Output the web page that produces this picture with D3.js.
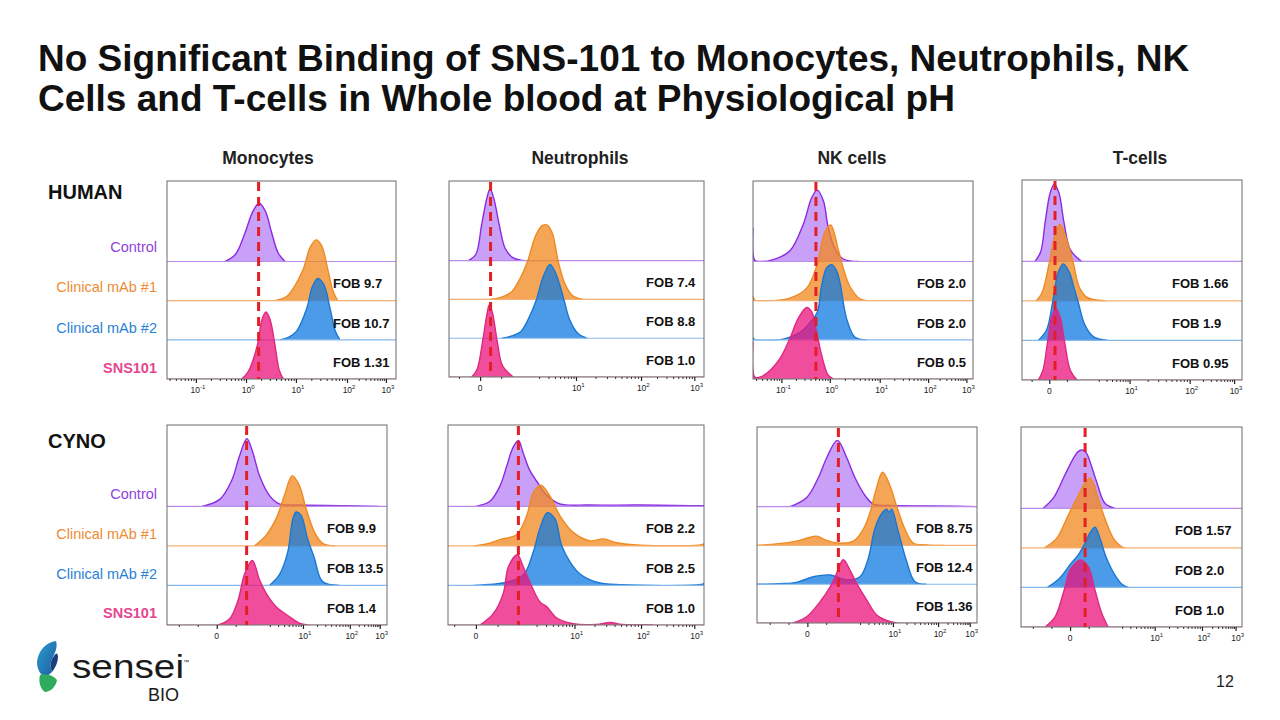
<!DOCTYPE html>
<html><head><meta charset="utf-8">
<script src="https://cdnjs.cloudflare.com/ajax/libs/d3/7.8.5/d3.min.js"></script>
<style>body{margin:0;background:#fff}svg{display:block}text{font-family:"Liberation Sans",Arial,sans-serif}</style>
</head><body><svg id="c" width="1280" height="720"></svg>
<script>
// ---------------- DATA ----------------
const titleLines = ["No Significant Binding of SNS-101 to Monocytes, Neutrophils, NK",
                    "Cells and T-cells in Whole blood at Physiological pH"];
const rowNames = ["HUMAN", "CYNO"];
const cellTypes = ["Monocytes", "Neutrophils", "NK cells", "T-cells"];
const seriesNames = ["Control", "Clinical mAb #1", "Clinical mAb #2", "SNS101"];

// FOB values per panel: [mAb1, mAb2, SNS101]
const fobHuman = [["9.7","10.7","1.31"],["7.4","8.8","1.0"],["2.0","2.0","0.5"],["1.66","1.9","0.95"]];
const fobCyno  = [["9.9","13.5","1.4"],["2.2","2.5","1.0"],["8.75","12.4","1.36"],["1.57","2.0","1.0"]];

// control-peak reference (display channel 0-100)
const dashHuman = [40, 16.3, 28.6, 15];
const dashCyno  = [36.2, 27.5, 37, 29];

// axis tick labels: [exponent (null = "0"), display channel]
const hMonoTicks = [[-1,13.5],[0,35.4],[1,57.2],[2,79.5],[3,96.5]];
const hNeutTicks = [[null,12.2],[1,50.7],[2,76.2],[3,97.1]];
const hNKTicks   = [[-1,13.8],[0,35.8],[1,58.5],[2,80.5],[3,97.9]];
const hTTicks    = [[null,12.4],[1,49.8],[2,77.1],[3,97.3]];
const cMonoTicks = [[null,22.6],[1,62.7],[2,84],[3,97.6]];
const cNeutTicks = [[null,10.9],[1,50.3],[2,76.3],[3,97.1]];
const cNKTicks   = [[null,22.9],[1,62.7],[2,83.2],[3,97.6]];
const cTTicks    = [[null,22.2],[1,61.4],[2,82.8],[3,98]];

// histograms: [channel, % of mode] for Control, mAb #1, mAb #2, SNS101
const hMono = [
 [[25.3,0],[30,12],[34.1,46],[37.5,80],[40.3,93],[43,80],[45.7,46],[48.5,14],[51.5,0]],
 [[47.2,0],[52,6],[55.2,20],[59.5,50],[62.5,85],[65.1,97],[67.5,88],[70.2,50],[72.5,15],[74.5,0]],
 [[49.3,0],[53,4],[56.6,14],[61,50],[63.5,85],[65.9,98],[68.5,88],[71.2,50],[73.5,14],[75.5,0]],
 [[32.6,0],[35.5,12],[39.4,53],[41.5,95],[43.2,107],[45,95],[47.2,53],[49,14],[50.8,0]]
];
const hNeut = [
 [[7.6,0],[10.5,10],[12.8,58],[14.8,100],[16.1,116],[17.6,100],[19.7,58],[22,20],[25,5],[28,1],[35,0]],
 [[16,0],[20,3],[24.5,12],[28,35],[30.7,60],[34,103],[36.5,119],[38.5,120],[40.5,107],[42.9,60],[45.5,25],[48.5,6],[52.7,0]],
 [[20.7,0],[24,3],[28,10],[31,30],[34.1,60],[37,100],[39.6,119],[41.5,108],[43.5,85],[45.2,60],[47.5,28],[50.5,8],[54,0]],
 [[8.9,0],[11,12],[13.2,58],[15,104],[15.8,116],[17,104],[18.9,58],[21,18],[25.2,0]]
];
const hNK = [
 [[0,54],[0.8,2],[3,0],[9.2,3],[16.8,17],[22.9,60],[26.7,102],[29.2,114],[32,97],[34.2,54],[37.3,20],[41,4],[48,0]],
 [[0,8],[0.8,1],[9.2,0],[16.8,4],[24.4,20],[28.9,55],[32.7,110],[35.3,121],[38.8,81],[41,52],[44,23],[48.6,3],[53,0]],
 [[0,4],[0.8,0],[12,0],[21.4,12],[26,28],[29.2,44],[31.2,87],[33.5,115],[35.8,120],[38,110],[39.5,92],[42.6,33],[46.4,4],[52,0]],
 [[0,60],[0.8,3],[3,3],[6.2,9],[12.3,33],[16.8,65],[20.6,97],[24.4,114],[26.7,107],[28.9,75],[31.2,38],[34.2,6],[36.5,0]]
];
const hT = [
 [[5.9,0],[8.5,15],[10.5,61],[12.8,108],[14.7,122],[16.8,108],[19.1,61],[22,18],[27,0]],
 [[6.4,0],[9,12],[12.4,60],[15,105],[17.3,121],[20,100],[23.3,60],[26,22],[29.4,6],[35,1],[38,0]],
 [[7.4,0],[11.2,17],[13.9,60],[16.5,108],[18.8,121],[21.5,108],[23.5,85],[25.6,60],[28.5,25],[32.4,6],[39,0]],
 [[7.4,0],[9.5,15],[11.5,57],[13.5,100],[15.3,113],[17.3,100],[19.5,57],[22,15],[25,0]]
];
const cMono = [
 [[16,0],[24,11],[29.3,40],[33,80],[36.3,107],[39,85],[42.1,48],[46.6,17],[51,4],[60,2],[80,1],[96,0]],
 [[39.8,0],[45.1,17],[49.6,43],[53.4,80],[56.9,111],[60.2,95],[63.2,59],[67,22],[70.7,4],[76.5,0]],
 [[46.6,0],[51.1,17],[54.9,53],[57.2,105],[58.7,116],[60.9,111],[63.9,74],[67,43],[70.7,6],[78.5,0]],
 [[23.2,0],[28.5,10],[32.3,39],[35.3,81],[38.8,102],[42.1,71],[45.1,50],[49.6,29],[55.7,13],[60.2,3],[64,0]]
];
const cNeut = [
 [[11,0],[16.4,8],[20.3,32],[22.9,63],[25.3,92],[27.5,104],[29.4,84],[31.8,58],[34.6,40],[38.5,18],[43.7,4],[55,2],[75,2],[95,1],[100,1]],
 [[9.9,0],[15,3],[20.3,10],[26.8,18],[30.7,47],[33.3,84],[36.3,96],[39.8,79],[43.8,47],[49,21],[55.5,8],[60.7,11],[65.9,5],[75,1],[98,1],[100,3]],
 [[9.9,0],[22.9,5],[29.4,16],[33.3,53],[35.9,90],[38.8,115],[41.8,105],[44.4,63],[47.7,37],[51.6,18],[58.1,5],[68,1],[98,1],[100,3]],
 [[12.5,0],[17.7,18],[21.6,50],[23.6,92],[27.1,111],[29.4,92],[32.7,61],[36,36],[38.5,29],[42.5,11],[49,2],[58,1],[63.3,4],[68,1],[80,0]]
];
const cNK = [
 [[15,0],[22.6,15],[27.9,47],[31.7,79],[36.5,107],[40.8,79],[44.5,47],[49.1,18],[52.9,4],[60,2],[90,1],[100,0]],
 [[0,0],[10,3],[18,7],[23,12],[27.1,15],[31,9],[36.2,4],[43.8,7],[48.3,26],[51.4,53],[54.1,90],[57.1,118],[60.5,96],[63.5,63],[67.3,26],[71,4],[77,1],[85,0]],
 [[0,0],[10,1],[18,3],[25.6,12],[33.2,15],[40.8,7],[46.8,12],[50.6,42],[53.6,90],[56.7,114],[58.9,121],[60,116],[61.2,121],[64.2,85],[68,37],[71.8,4],[77,0]],
 [[16.5,0],[22.6,10],[28.6,34],[33.2,58],[36.2,80],[39.2,102],[42.3,85],[45.3,64],[49.9,37],[54.4,13],[58.9,4],[63.5,0]]
];
const cT = [
 [[10,0],[14.6,16],[19.9,53],[23.7,79],[26,90],[27.9,92],[29.5,88],[31.2,74],[34.2,42],[38,8],[42.5,0]],
 [[10.6,0],[16.1,15],[21.4,52],[26.7,88],[29,103],[31.2,110],[33,100],[34.5,83],[38,46],[41.8,15],[45,3],[47,0]],
 [[12,0],[17.6,15],[22.2,36],[26,52],[29,70],[31.2,86],[33.5,95],[35.7,78],[38.7,46],[43.3,15],[46,4],[48.6,0]],
 [[10.9,0],[15.4,16],[19.1,53],[22.2,90],[24.4,100],[27,106],[30.5,95],[33.5,58],[36.5,22],[39.4,0]]
];

// ---------------- STYLE / LAYOUT ----------------
const fillC   = ["#B780F4","#F2871E","#107AE0","#EB127B"];
const strokeC = ["#8A2BE2","#EE8A22","#1A78D4","#DD2A80"];
const baseC   = ["#B98BEA","#F3B072","#86B9EC","#E679AE"];
const labelC  = ["#8F3FE0","#EE8B35","#2A7FD6","#E5468F"];
const labelDy = [[-15,-14,-12,-11],[-13,-12,-12,-12]];
const LANE = 62.5, YMAX = 316;
const curve = d3.curveCatmullRom.alpha(0.5);

const svg = d3.select("#c");

// title
svg.append("g").selectAll("text").data(titleLines).join("text")
  .attr("x", 38).attr("y", (d,i) => 71 + i*40)
  .attr("font-size", 37).attr("font-weight", "bold").attr("fill", "#111").text(d => d);

// column headers
const colCenters = [268, 580, 852, 1140];
svg.append("g").selectAll("text").data(cellTypes).join("text")
  .attr("x", (d,i) => colCenters[i]).attr("y", 164).attr("text-anchor","middle")
  .attr("font-size", 17.5).attr("font-weight","bold").attr("fill","#222").text(d => d);

const boxes = [
  [[167,181,396,379],[449,181,704,377],[753,181,973,379],[1022,180,1242,380]],
  [[167,425,387,625],[448,425,704,625],[757,427,977,623],[1021,427,1242,627]]
];
const fobXs = [[72.5,77.3,74.5,68.2],[72.7,77.3,72.3,69.7]];
const hists = [[hMono,hNeut,hNK,hT],[cMono,cNeut,cNK,cT]];
const ticks = [[hMonoTicks,hNeutTicks,hNKTicks,hTTicks],[cMonoTicks,cNeutTicks,cNKTicks,cTTicks]];
const fobs = [fobHuman, fobCyno];
const dashes = [dashHuman, dashCyno];
const rowLabelY = [199, 448];

function tickPos(t) {
  const major = t.map(d => d[0] === null ? d[1] : d[1] - 0.9);
  const minor = [];
  for (let i = 0; i < t.length - 1; i++) {
    const a = major[i], b = major[i+1];
    if (t[i][0] === null) {
      for (let k = 2; k < 10; k++) minor.push(b - (b-a)*0.55*(1 - Math.log10(k)));
      minor.push(a + (b-a)*0.22);
    } else {
      for (let k = 2; k < 10; k++) minor.push(a + (b-a)*Math.log10(k));
    }
  }
  const a = major[0], b = major[1];
  if (t[0][0] === null) { for (let v = a - (b-a)*0.22; v > 0.5; v -= (b-a)*0.22) minor.push(v); }
  else { for (let k = 2; k < 10; k++) { const v = a - (b-a)*(1 - Math.log10(k)); if (v > 0.5) minor.push(v); } }
  return {major, minor};
}

let clipId = 0;
rowNames.forEach((rn, r) => {
  svg.append("text").attr("x", 48).attr("y", rowLabelY[r]).attr("font-size", 20)
    .attr("font-weight","bold").attr("fill","#111").text(rn);

  cellTypes.forEach((ct, c) => {
    const [x0,y0,x1,y1] = boxes[r][c];
    const x = d3.scaleLinear().domain([0,100]).range([x0,x1]);
    const y = d3.scaleLinear().domain([0,YMAX]).range([y1,y0]);
    const g = svg.append("g");
    const id = "clip" + (clipId++);
    g.append("clipPath").attr("id", id).append("rect")
      .attr("x", x0).attr("y", y0).attr("width", x1-x0).attr("height", y1-y0);
    const cg = g.append("g").attr("clip-path", `url(#${id})`);

    hists[r][c].forEach((pts, i) => {
      const off = (3 - i) * LANE;
      const lc = cg.append("g");
      // clip each histogram to its own baseline so the spline never dips below it
      const lid = "lane" + (clipId++);
      lc.append("clipPath").attr("id", lid).append("rect")
        .attr("x", x0).attr("y", y0).attr("width", x1-x0).attr("height", y(off) - y0 + 0.5);
      const hg = lc.append("g").attr("clip-path", `url(#${lid})`);
      const area = d3.area().x(d => x(d[0])).y0(y(off)).y1(d => y(off + d[1])).curve(curve);
      hg.append("path").attr("d", area(pts)).attr("fill", fillC[i]).attr("fill-opacity", 0.75);
      const line = d3.line().x(d => x(d[0])).y(d => y(off + d[1])).curve(curve);
      hg.append("path").attr("d", line(pts)).attr("fill","none").attr("stroke", strokeC[i])
        .attr("stroke-width", 1.4).attr("stroke-linejoin","round");
      lc.append("line").attr("x1", x(0)).attr("x2", x(100)).attr("y1", y(off)).attr("y2", y(off))
        .attr("stroke", baseC[i]).attr("stroke-width", 1.2);
    });

    // box
    g.append("rect").attr("x", x0).attr("y", y0).attr("width", x1-x0).attr("height", y1-y0)
      .attr("fill","none").attr("stroke","#6b6b6b").attr("stroke-width",1);

    // dashed control-peak line
    g.append("line").attr("x1", x(dashes[r][c])).attr("x2", x(dashes[r][c]))
      .attr("y1", y(YMAX)+1).attr("y2", y(0))
      .attr("stroke","#E31E24").attr("stroke-width",3).attr("stroke-dasharray","9,6");

    // FOB labels
    fobs[r][c].forEach((f, i) => {
      const off = (2 - i) * LANE;
      g.append("text").attr("x", x(fobXs[r][c])).attr("y", y(off + 27) + 4.6)
        .attr("font-size", 13).attr("font-weight","bold").attr("fill","#111").text("FOB " + f);
    });

    // axis
    const tp = tickPos(ticks[r][c]);
    const ax = g.append("g").attr("transform", `translate(0,${y1})`);
    ax.append("g").call(d3.axisBottom(x).tickValues(tp.minor).tickSize(2).tickFormat(""))
      .call(s => s.select(".domain").remove()).selectAll("line").attr("stroke","#333");
    ax.append("g").call(d3.axisBottom(x).tickValues(tp.major).tickSize(4).tickFormat(""))
      .call(s => s.select(".domain").remove()).selectAll("line").attr("stroke","#222").attr("stroke-width",1.2);
    const lab = g.append("g").selectAll("text").data(ticks[r][c]).join("text")
      .attr("x", d => x(d[1])).attr("y", y1 + 14).attr("text-anchor","middle")
      .attr("font-size", 8.5).attr("fill","#222");
    lab.each(function(d) {
      const t = d3.select(this);
      if (d[0] === null) { t.text("0"); }
      else {
        t.append("tspan").text("10");
        t.append("tspan").attr("dy", -4).attr("font-size", 6).text(String(d[0]));
      }
    });

    // series labels at left of first panel
    if (c === 0) {
      seriesNames.forEach((s, i) => {
        const off = (3 - i) * LANE;
        svg.append("text").attr("x", 157).attr("y", y(off) + labelDy[r][i] + 5.2).attr("text-anchor","end")
          .attr("font-size", 14.5).attr("font-weight", i === 3 ? "bold" : "normal")
          .attr("fill", labelC[i]).text(s);
      });
    }
  });
});

// page number
svg.append("text").attr("x", 1225).attr("y", 687).attr("text-anchor","middle")
  .attr("font-size", 16).attr("fill","#222").text("12");

// logo
const defs = svg.append("defs");
const lg = defs.append("linearGradient").attr("id","leafg").attr("x1","0").attr("y1","0").attr("x2","1").attr("y2","1");
lg.append("stop").attr("offset","0").attr("stop-color","#2E9CCB");
lg.append("stop").attr("offset","1").attr("stop-color","#1B5AA3");
const logo = svg.append("g");
logo.append("path").attr("d","M56 641 C46 642 38 651 37 662 C37 669 40 674 45 678 L52 672 C50 668 50 663 52 659 C55 653 58 647 56 641 Z")
  .attr("fill","url(#leafg)");
logo.append("path").attr("d","M52 659 C55 654 57 651 58 656 C58 663 55 668 52 672 C50 668 50 663 52 659 Z").attr("fill","#1B3F7E");
logo.append("path").attr("d","M40 675 C46 673 53 675 57 680 C56 687 50 692 45 692 C41 690 38 682 40 675 Z").attr("fill","#2EAB5E");
logo.append("text").attr("x", 72).attr("y", 678).attr("font-family","Roboto, sans-serif").attr("font-weight",500)
  .attr("font-size", 33).attr("textLength", 112).attr("lengthAdjust","spacingAndGlyphs").attr("fill","#1a1a1a").text("sensei");
logo.append("text").attr("x", 148).attr("y", 701).attr("font-family","Roboto, sans-serif")
  .attr("font-size", 18).attr("fill","#1a1a1a").text("BIO");
logo.append("text").attr("x", 183).attr("y", 664).attr("font-family","Roboto, sans-serif")
  .attr("font-size", 6).attr("fill","#1a1a1a").text("™");
</script></body></html>
